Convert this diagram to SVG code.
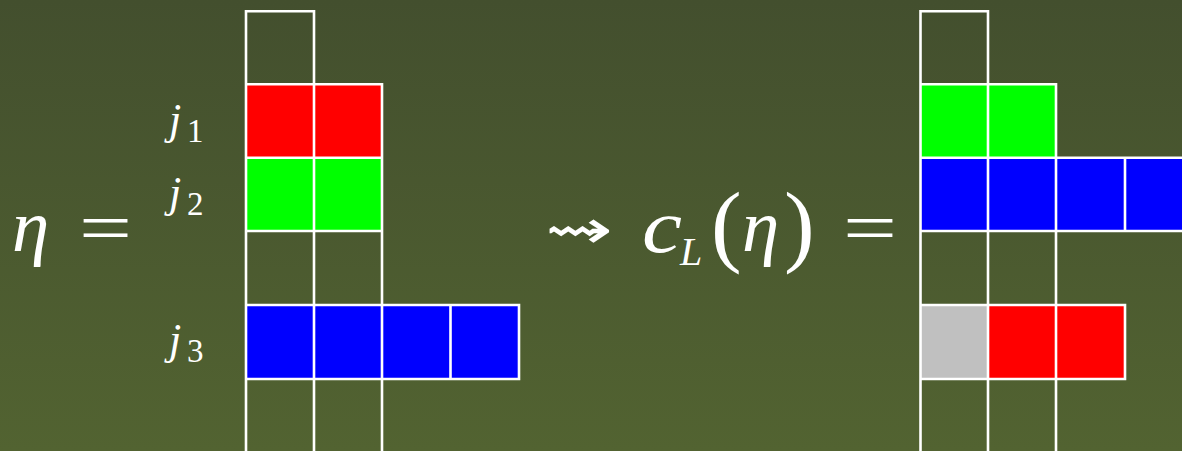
<svg xmlns="http://www.w3.org/2000/svg" width="1182" height="451" viewBox="0 0 1182 451">
<defs>
<linearGradient id="bg" x1="0" y1="0" x2="0" y2="1">
<stop offset="0" stop-color="#434f2e"/>
<stop offset="1" stop-color="#526331"/>
</linearGradient>
<style>
.g{stroke:#ffffff;stroke-width:2.6;fill:none;stroke-linecap:square}
.m{font-family:"Liberation Serif","DejaVu Serif",serif;fill:#ffffff}
.i{font-style:italic}
.red{fill:#ff0000}.grn{fill:#00ff00}.blu{fill:#0000ff}.gry{fill:#c0c0c0}
</style>
</defs>
<rect width="1182" height="451" fill="url(#bg)"/>
<g id="left-grid">
<rect class="red" x="246" y="84.5" width="136" height="73"/>
<rect class="grn" x="246" y="157.5" width="136" height="73.5"/>
<rect class="blu" x="246" y="305" width="273" height="74"/>
<path class="g" d="M246 11.3H314M246 84.3H382M246 157.7H382M246 231H382M246 305H519M246 379H519M246 11.3V460M314 11.3V460M382 84.3V460M450.5 305V379M519 305V379"/>
</g>
<g id="right-grid">
<rect class="grn" x="920.5" y="84.5" width="135.5" height="73"/>
<rect class="blu" x="920.5" y="157.5" width="270" height="73.5"/>
<rect class="gry" x="920.5" y="305" width="68" height="74"/>
<rect class="red" x="988" y="305" width="137" height="74"/>
<path class="g" d="M920.5 11.3H988M920.5 84.3H1056M920.5 157.7H1190M920.5 231H1190M920.5 305H1125M920.5 379H1125M920.5 11.3V460M988 11.3V460M1056 84.3V460M1125 157.7V231M1125 305V379"/>
</g>
<g id="labels">
<text class="m i" x="12" y="251" font-size="75">η</text>
<text class="m" x="79" y="252" font-size="72" textLength="53" lengthAdjust="spacingAndGlyphs">=</text>
<text class="m i" x="169" y="134" font-size="44">j</text><text class="m" x="187" y="142" font-size="33">1</text>
<text class="m i" x="169" y="207" font-size="44">j</text><text class="m" x="187" y="215" font-size="33">2</text>
<text class="m i" x="169" y="354" font-size="44">j</text><text class="m" x="187" y="362" font-size="33">3</text>
<text x="545" y="248" font-size="54" font-family="DejaVu Sans,sans-serif" fill="#ffffff" textLength="68" lengthAdjust="spacingAndGlyphs">⇝</text>
<text class="m i" x="642" y="252" font-size="76" textLength="40" lengthAdjust="spacingAndGlyphs">c</text>
<text class="m i" x="680" y="265" font-size="40">L</text>
<text class="m" x="711" y="255" font-size="92">(</text>
<text class="m i" x="742" y="251" font-size="75">η</text>
<text class="m" x="784" y="255" font-size="92">)</text>
<text class="m" x="843" y="252" font-size="72" textLength="54" lengthAdjust="spacingAndGlyphs">=</text>
</g>
</svg>
